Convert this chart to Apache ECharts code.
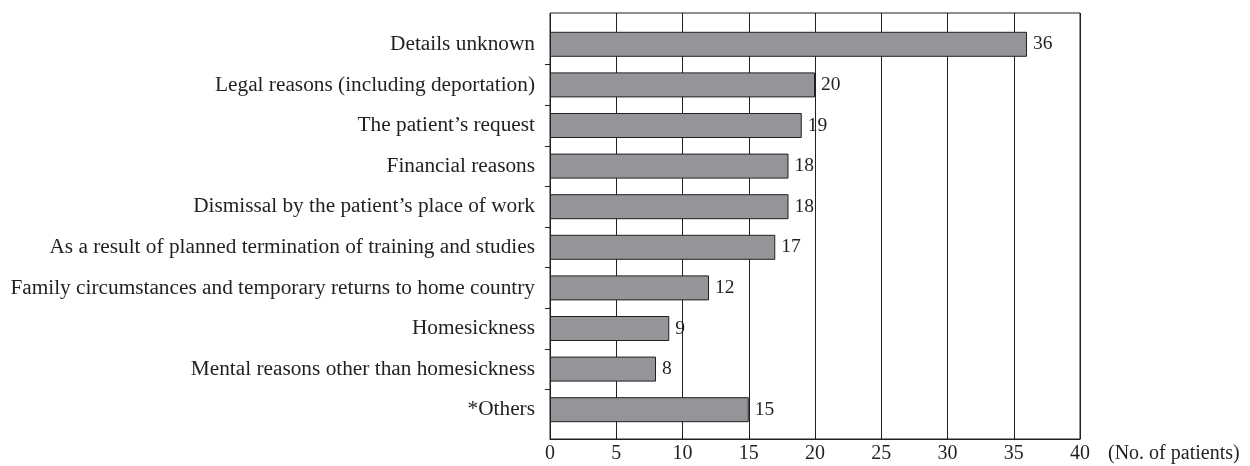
<!DOCTYPE html>
<html>
<head>
<meta charset="utf-8">
<script src="https://cdn.jsdelivr.net/npm/echarts@6/dist/echarts.min.js"></script>
<style>
html,body{margin:0;padding:0;background:#fff;}
#chart{width:1250px;height:466px;}
</style>
</head>
<body>
<div id="chart"></div>
<script>
var categories = [
  "Details unknown",
  "Legal reasons (including deportation)",
  "The patient\u2019s request",
  "Financial reasons",
  "Dismissal by the patient\u2019s place of work",
  "As a result of planned termination of training and studies",
  "Family circumstances and temporary returns to home country",
  "Homesickness",
  "Mental reasons other than homesickness",
  "*Others"
];
var patients = [36, 20, 19, 18, 18, 17, 12, 9, 8, 15];
var xMin = 0, xMax = 40, xStep = 5;
var xAxisName = "(No. of patients)";

var ink = '#231f20';
var font = '"Liberation Serif", "Times New Roman", serif';

// interior boundaries between categories (for the small left ticks)
var boundaries = categories.slice(1).map(function (_, i) { return i + 1; });

var chart = echarts.init(document.getElementById('chart'));
chart.setOption({
  animation: false,
  backgroundColor: '#ffffff',
  textStyle: { fontFamily: font, color: ink },
  grid: [
    { left: 550, right: 170, top: 13, bottom: 27, show: true, borderColor: ink, borderWidth: 1, backgroundColor: 'transparent' },
    { left: 550, right: 170, top: 24, bottom: 36 }
  ],
  xAxis: [
    {
      gridIndex: 0, type: 'value', min: xMin, max: xMax, interval: xStep,
      axisLine: { show: true, lineStyle: { color: ink, width: 1 } },
      axisTick: { show: false },
      splitLine: { show: true, lineStyle: { color: ink, width: 1 } },
      axisLabel: { fontFamily: font, fontSize: 20, color: ink, margin: 5 },
      name: xAxisName, nameLocation: 'end', nameGap: 28,
      nameTextStyle: { fontFamily: font, fontSize: 20, color: ink, verticalAlign: 'top', padding: [5, 0, 0, 0] }
    },
    {
      gridIndex: 1, type: 'value', min: xMin, max: xMax, show: false
    }
  ],
  yAxis: [
    { gridIndex: 0, type: 'value', show: false },
    {
      gridIndex: 1, type: 'category', data: categories, inverse: true, position: 'left',
      axisLine: { show: false },
      axisTick: { show: false },
      axisLabel: { fontFamily: font, fontSize: 21.3, color: ink, margin: 15 },
      splitLine: { show: false }
    },
    {
      gridIndex: 1, type: 'value', min: 0, max: categories.length, interval: 1, inverse: true, position: 'left',
      axisLine: { show: false },
      axisLabel: { show: false },
      splitLine: { show: false },
      axisTick: { show: true, length: 5, lineStyle: { color: ink, width: 1 }, customValues: boundaries }
    }
  ],
  series: [
    {
      type: 'bar', xAxisIndex: 1, yAxisIndex: 1, data: patients,
      barWidth: 25,
      itemStyle: { color: '#939598', borderColor: ink, borderWidth: 1 },
      label: { show: true, position: 'right', distance: 6, fontFamily: font, fontSize: 19.5, color: ink }
    }
  ]
});
</script>
</body>
</html>
